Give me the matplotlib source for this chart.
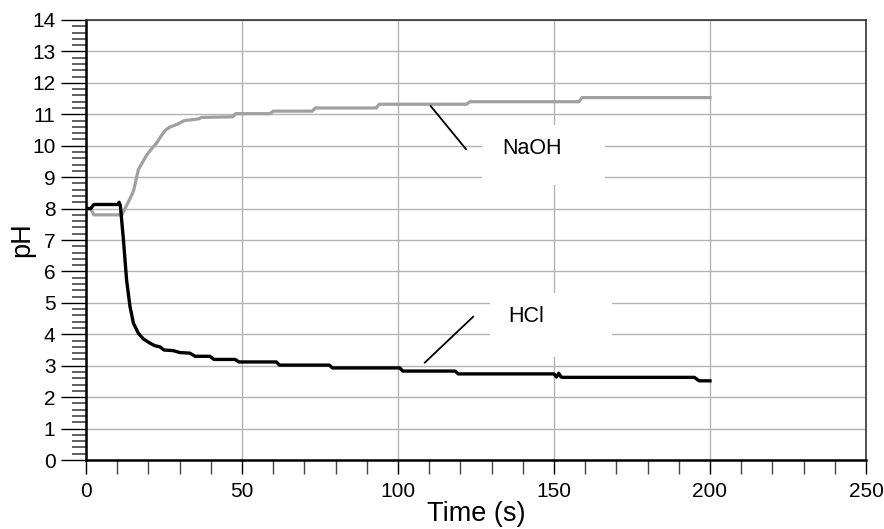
import matplotlib.pyplot as plt
import matplotlib.patches as patches
from matplotlib.ticker import MultipleLocator

plt.rcParams['font.family'] = ['Liberation Sans', 'DejaVu Sans']

# ===== DATA =====
naoh_t = [0, 1.5, 2.5, 11.5, 12.5, 14, 15.2, 16.8, 18, 19.4, 21, 22.6, 24, 25.5, 27, 28.5,
          30, 31.5, 36, 37, 47, 48, 59, 60, 72.5, 73.5, 93, 94, 122, 123, 158, 159, 200]
naoh_ph = [8.0, 8.0, 7.8, 7.8, 8.0, 8.3, 8.55, 9.25, 9.45, 9.7, 9.9, 10.08, 10.3, 10.5, 10.6, 10.65,
           10.72, 10.8, 10.85, 10.9, 10.92, 11.02, 11.02, 11.1, 11.1, 11.2, 11.2, 11.32, 11.32, 11.4,
           11.4, 11.53, 11.53]

hcl_t = [0, 1.5, 2.5, 10.3, 10.6, 11.0, 12, 13, 14.1, 15.2, 16.8, 18.4, 20.5, 22, 23.7, 25, 28,
         30, 33.3, 35, 39.7, 41, 47.8, 49, 61, 62, 78, 79, 100.6, 101.5, 118.3, 119.3, 150,
         150.8, 151.5, 152.3, 153, 195, 196.5, 200]
hcl_ph = [8.0, 8.0, 8.13, 8.13, 8.2, 8.1, 7.0, 5.73, 4.88, 4.35, 4.03, 3.85, 3.72, 3.64, 3.6, 3.5,
          3.48, 3.42, 3.4, 3.3, 3.3, 3.2, 3.2, 3.12, 3.12, 3.02, 3.02, 2.93, 2.93, 2.83, 2.83, 2.74,
          2.74, 2.64, 2.76, 2.64, 2.63, 2.63, 2.52, 2.52]

naoh_label = "NaOH"
hcl_label = "HCl"

# ===== PLOT =====
fig = plt.figure(figsize=(8.84, 5.29), dpi=100)
ax = fig.add_axes([0.0973, 0.1304, 0.8823, 0.8318])

ax.set_xlim(0, 250)
ax.set_ylim(0, 14)
ax.xaxis.set_major_locator(MultipleLocator(50))
ax.xaxis.set_minor_locator(MultipleLocator(10))
ax.yaxis.set_major_locator(MultipleLocator(1))
ax.yaxis.set_minor_locator(MultipleLocator(0.2))

ax.grid(True, which='major', color='#b4b4b4', lw=1.0, zorder=0)
ax.set_axisbelow(True)

ax.tick_params(axis='x', which='major', length=10, width=1, direction='out', labelsize=15, pad=6)
ax.tick_params(axis='x', which='minor', length=10, width=1, color='#444444', direction='out')
ax.tick_params(axis='y', which='major', length=18, width=1, direction='out', labelsize=15, pad=4)
ax.tick_params(axis='y', which='minor', length=10, width=1.2, color='#444444', direction='out')

for side in ['left', 'bottom']:
    ax.spines[side].set_linewidth(1.8)
for side in ['top', 'right']:
    ax.spines[side].set_linewidth(1.2)
    ax.spines[side].set_color('#333333')

ax.plot(naoh_t, naoh_ph, color='#a0a0a0', lw=2.3, zorder=3)
ax.plot(hcl_t, hcl_ph, color='black', lw=2.4, zorder=4)

# white boxes behind the labels hide the grid
ax.add_patch(patches.Rectangle((127, 8.75), 39.3, 1.91, facecolor='white', edgecolor='none', zorder=1))
ax.add_patch(patches.Rectangle((129.5, 3.29), 39.1, 2.01, facecolor='white', edgecolor='none', zorder=1))

ax.text(142.8, 9.92, naoh_label, fontsize=15.5, ha='center', va='center', zorder=5)
ax.text(141.2, 4.58, hcl_label, fontsize=15.5, ha='center', va='center', zorder=5)
ax.plot([110.5, 121.8], [11.26, 9.89], color='black', lw=1.3, zorder=5)
ax.plot([108.6, 124.1], [3.1, 4.56], color='black', lw=1.3, zorder=5)

ax.set_xlabel("Time (s)", fontsize=19.5, labelpad=0)
ax.set_ylabel("pH", fontsize=19.5)
ax.yaxis.set_label_coords(-0.065, 0.5)

fig.savefig("out.png", dpi=100)
